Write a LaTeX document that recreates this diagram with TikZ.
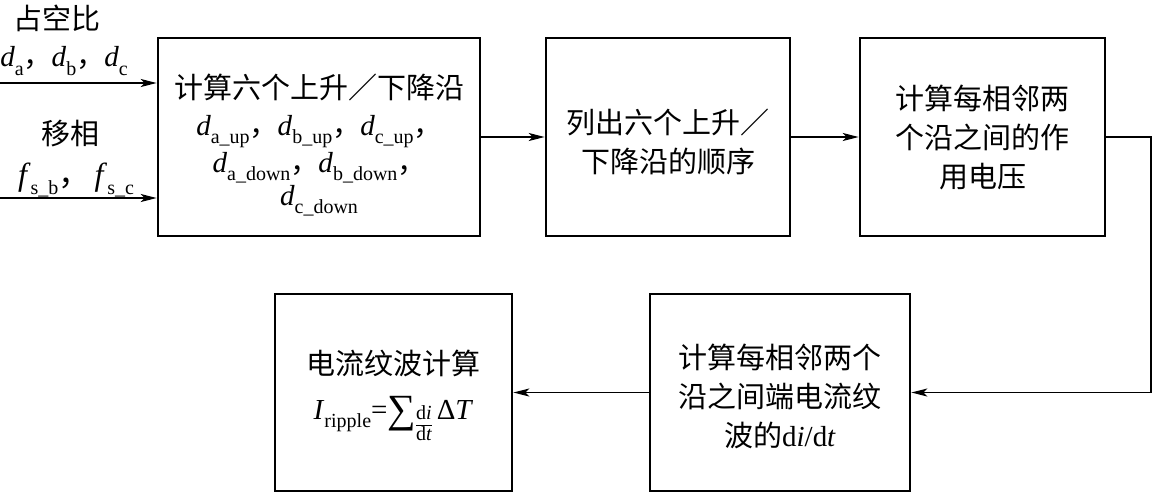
\documentclass[tikz,border=0pt]{standalone}
\usepackage{fontspec}
\setmainfont{Liberation Serif}
\newfontfamily\cjk{Noto Sans CJK SC}
\usetikzlibrary{arrows.meta}
\newcommand\sbs[1]{\raisebox{-0.28em}{\fontsize{20}{20}\selectfont #1}}
\newcommand\dvar[1]{\textit{d}\sbs{#1}}
\newcommand\cm{{\cjk ，}\kern-1pt}
\newcommand\smallfrac[2]{\raisebox{-0.38em}{\fontsize{20}{21}\selectfont\renewcommand\arraystretch{0.95}\setlength\arrayrulewidth{1pt}\begin{tabular}{@{}c@{}}#1\\\hline #2\end{tabular}}}
\begin{document}
\begin{tikzpicture}[x=1pt,y=-1pt,
  box/.style={draw,line width=2.6pt,rectangle,align=center,inner sep=0pt,
    font=\fontsize{29}{39}\selectfont},
  arr/.style={line width=1.3pt,-{Stealth[length=16pt,width=8pt,inset=4pt]}},
  lbl/.style={inner sep=0pt,font=\fontsize{29}{36}\selectfont}]
\useasboundingbox (0,0) rectangle (1153,493);
\node[box,minimum width=322pt,minimum height=198pt] (b1) at (319,137)
  {\rule{0pt}{40pt}{\cjk 计算六个上升／下降沿}\\[-2pt]
   \dvar{a\_up}\cm\dvar{b\_up}\cm\dvar{c\_up}\cm\\[-2pt]
   \dvar{a\_down}\cm\dvar{b\_down}\cm\\[-6pt]
   \dvar{c\_down}};
\node[box,minimum width=244pt,minimum height=198pt] (b2) at (668,137)
  {\rule{0pt}{34pt}\cjk 列出六个上升／\\\cjk 下降沿的顺序};
\node[box,minimum width=245pt,minimum height=198pt] (b3) at (982.5,137)
  {\cjk 计算每相邻两\\\cjk 个沿之间的作\\\cjk 用电压};
\node[box,minimum width=260pt,minimum height=197pt] (b4) at (780,392.5)
  {\rule{0pt}{32pt}\cjk 计算每相邻两个\\\cjk 沿之间端电流纹\\{\cjk 波的}d\textit{i}/d\textit{t}};
\node[box,minimum width=237pt,minimum height=197pt] (b5) at (393.5,392.5)
  {\rule{0pt}{36pt}{\cjk 电流纹波计算}\\[6pt]
   \textit{I}\sbs{ripple}=\raisebox{-0.08em}{\fontsize{40}{40}\selectfont ∑}\smallfrac{d\textit{i}}{d\textit{t}}\,Δ\textit{T}};
% inputs
\coordinate (i1) at (0,83);
\coordinate (i2) at (0,198);
\node[lbl] (t1) at (57,18) {\cjk 占空比};
\node[lbl] (t2) at (64,61) {\dvar{a}\cm\dvar{b}\cm\dvar{c}};
\node[lbl] (t3) at (70,134) {\cjk 移相};
\node[lbl] (t4) at (76,180) {\fontsize{32}{36}\selectfont\textit{f}\sbs{s\_b}\cm\,\textit{f}\sbs{s\_c}};
\draw[arr] (i1) -- (b1.west |- i1);
\draw[arr] (i2) -- (b1.west |- i2);
\draw[arr] (b1) -- (b2);
\draw[arr] (b2) -- (b3);
\coordinate (c1) at (1151,137);
\draw[arr] (b3.east) -- (c1) |- (b4.east);
\draw[arr] (b4) -- (b5);
\end{tikzpicture}
\end{document}
